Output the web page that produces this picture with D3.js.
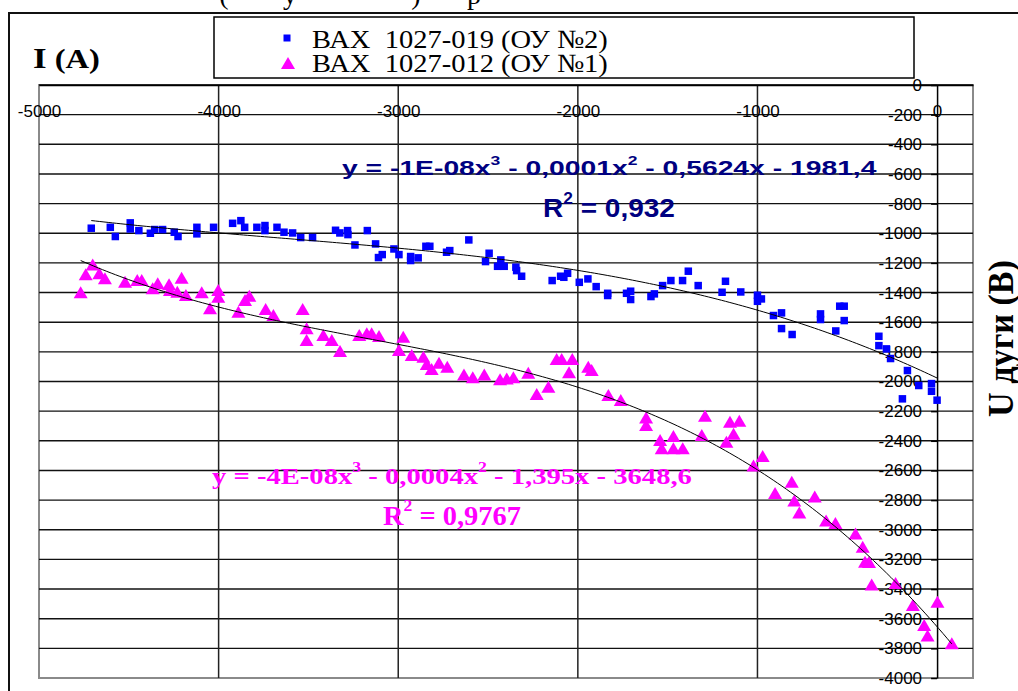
<!DOCTYPE html>
<html>
<head>
<meta charset="utf-8">
<script src="https://cdn.jsdelivr.net/npm/d3@7"></script>
<style>
  html, body { margin: 0; padding: 0; background: #fff; }
  svg { display: block; }
  text { white-space: pre; }
</style>
</head>
<body>
<svg id="chart" width="1018" height="691"></svg>
<script>
// ---- Data: arc current I (A) vs arc voltage U (V) ----
const seriesNames = ["ВАХ  1027-019 (ОУ №2)", "ВАХ  1027-012 (ОУ №1)"];

// ВАХ 1027-019 (ОУ №2): [I, U]
const vax019 = [
  [-4709,-966],[-4603,-960],[-4575,-1022],[-4492,-930],[-4492,-971],[-4444,-982],[-4380,-1000],
  [-4356,-975],[-4312,-975],[-4247,-993],[-4226,-1022],[-4121,-960],[-4121,-1004],[-4028,-960],
  [-3922,-933],[-3876,-915],[-3855,-960],[-3787,-960],[-3742,-948],[-3742,-982],[-3675,-960],
  [-3636,-993],[-3588,-998],[-3543,-1029],[-3477,-1029],[-3349,-980],[-3325,-998],[-3282,-982],
  [-3280,-1009],[-3241,-1079],[-3172,-982],[-3126,-1072],[-3110,-1164],
  [-3089,-1144],[-3024,-1106],[-2996,-1144],[-2931,-1157],[-2931,-1184],[-2889,-1166],[-2846,-1088],
  [-2824,-1088],[-2731,-1128],[-2713,-1117],[-2607,-1045],[-2514,-1191],[-2494,-1135],[-2447,-1223],
  [-2429,-1180],[-2410,-1223],[-2345,-1229],[-2341,-1252],[-2313,-1290],[-2143,-1319],[-2096,-1290],
  [-2078,-1297],[-2057,-1270],[-1992,-1331],[-1944,-1308],[-1898,-1360],[-1834,-1405],[-1834,-1420],
  [-1729,-1405],[-1706,-1391],[-1706,-1447],[-1593,-1427],[-1574,-1409],[-1528,-1353],[-1482,-1319],
  [-1417,-1319],[-1385,-1256],
  [-1330,-1353],[-1197,-1398],[-1178,-1324],[-1093,-1396],[-1000,-1418],[-1000,-1459],[-978,-1443],
  [-911,-1555],[-866,-1537],[-866,-1643],[-807,-1683],[-649,-1544],[-649,-1582],[-564,-1659],
  [-542,-1492],[-517,-1492],[-517,-1589],[-324,-1695],[-324,-1758],[-282,-1780],[-259,-1845],
  [-165,-1926],[-102,-2027],[-193,-2117],[-31,-2014],[-31,-2066],[0,-2126]
];

// ВАХ 1027-012 (ОУ №1): [I, U]
const vax012 = [
  [-4768,-1398],[-4740,-1277],[-4701,-1210],[-4664,-1270],[-4633,-1304],[-4521,-1327],[-4453,-1315],
  [-4428,-1315],[-4367,-1371],[-4339,-1338],[-4276,-1344],[-4271,-1383],[-4230,-1394],[-4206,-1300],
  [-4182,-1417],[-4094,-1398],[-4048,-1506],[-4002,-1383],[-4002,-1428],[-3890,-1529],[-3853,-1450],
  [-3829,-1421],[-3738,-1511],[-3695,-1552],[-3532,-1511],[-3510,-1641],[-3510,-1720],[-3417,-1687],
  [-3370,-1720],[-3324,-1794],[-3217,-1687],[-3175,-1675],[-3148,-1675],[-3107,-1693],[-2972,-1698],
  [-2996,-1788],[-2925,-1821],[-2860,-1833],[-2841,-1882],[-2814,-1916],[-2773,-1873],[-2727,-1900],
  [-2634,-1952],[-2585,-1972],[-2521,-1952],[-2433,-1985],[-2396,-1979],[-2359,-1972],[-2276,-1941],
  [-2229,-2085],[-2164,-2035],[-2118,-1848],[-2090,-1848],[-2049,-1938],[-2031,-1848],[-1942,-1900],
  [-1923,-1923],[-1830,-2091],[-1761,-2125],[-1620,-2242],[-1620,-2294],[-1542,-2395],[-1533,-2451],
  [-1468,-2368],[-1468,-2451],[-1416,-2451],[-1310,-2361],[-1292,-2231],[-1173,-2406],[-1153,-2271],
  [-1133,-2352],[-1101,-2265],[-1022,-2567],[-971,-2503],[-902,-2752],[-809,-2676],[-795,-2803],
  [-767,-2883],[-681,-2776],[-618,-2938],[-566,-2955],[-454,-3026],[-414,-3115],[-401,-3216],
  [-379,-3218],[-364,-3370],[-231,-3360],[-135,-3508],[-72,-3643],[-53,-3714],[2,-3486],[82,-3766]
];

// Axis ticks
const xTickValues = [-5000, -4000, -3000, -2000, -1000, 0];
const yTickValues = [0, -200, -400, -600, -800, -1000, -1200, -1400, -1600, -1800, -2000,
                     -2200, -2400, -2600, -2800, -3000, -3200, -3400, -3600, -3800, -4000];

// Trendline labels (as printed by the spreadsheet)
const eq019 = [["y = -1E-08x"], ["3", true], [" - 0,0001x"], ["2", true], [" - 0,5624x - 1981,4"]];
const r2019 = [["R"], ["2", true], [" = 0,932"]];
const eq012 = [["y = -4E-08x"], ["3", true], [" - 0,0004x"], ["2", true], [" - 1,395x - 3648,6"]];
const r2012 = [["R"], ["2", true], [" = 0,9767"]];

// ---- Layout ----
const sans = "'Liberation Sans', Arial, sans-serif";
const serif = "'Liberation Serif', 'Times New Roman', serif";
const blue = "#0000ff", magenta = "#ff00ff", navy = "#000080";

const svg = d3.select("#chart");
const x = d3.scaleLinear().domain([-5000, 200]).range([39, 973]);
const y = d3.scaleLinear().domain([-4000, 0]).range([678, 85]);

// squeeze/stretch a text horizontally so it spans `len` pixels
function fit(sel, len) {
  const w = sel.node().getBBox().width;
  sel.attr("transform", (sel.attr("transform") || "") + ` scale(${len / w},1)`);
  return sel;
}

// text made of plain and superscript runs
function rich(parent, parts, size, family, color) {
  const t = parent.append("text")
    .attr("font-family", family).attr("font-weight", "bold")
    .attr("font-size", size).attr("fill", color);
  const shift = size * 0.5;
  let raised = false;
  parts.forEach(([s, sup]) => {
    const ts = t.append("tspan").text(s);
    if (sup && !raised) { ts.attr("dy", -shift).attr("font-size", size * 0.62); raised = true; }
    else if (!sup && raised) { ts.attr("dy", shift); raised = false; }
  });
  return t;
}

// partial caption line above the frame (only its descenders show)
[["(", 224], ["у", 290], [")", 416], ["р", 474]].forEach(([ch, cx]) => {
  svg.append("text").attr("x", cx).attr("y", 4).attr("text-anchor", "middle")
    .attr("font-family", serif).attr("font-size", 28).text(ch);
});

// outer frame
svg.append("line").attr("x1", 8).attr("x2", 1018).attr("y1", 13).attr("y2", 13)
  .attr("stroke", "#111").attr("stroke-width", 2);
svg.append("line").attr("x1", 9).attr("x2", 9).attr("y1", 12).attr("y2", 691)
  .attr("stroke", "#111").attr("stroke-width", 2);

// plot area border
svg.append("rect").attr("x", x(-5000)).attr("y", y(0))
  .attr("width", x(200) - x(-5000)).attr("height", y(-4000) - y(0))
  .attr("fill", "none").attr("stroke", "#8a8a8a").attr("stroke-width", 2);

// gridlines
svg.append("g").selectAll("line").data(yTickValues.filter(v => v > -4000)).join("line")
  .attr("x1", x(-5000)).attr("x2", x(200))
  .attr("y1", d => y(d)).attr("y2", d => y(d))
  .attr("stroke", "#111").attr("stroke-width", 1.4);
svg.append("g").selectAll("line").data(xTickValues.filter(v => v > -5000 && v < 0)).join("line")
  .attr("x1", d => x(d)).attr("x2", d => x(d))
  .attr("y1", y(0)).attr("y2", y(-4000))
  .attr("stroke", "#222").attr("stroke-width", 1.5);

// horizontal axis along U = 0
const xAxis = svg.append("g").attr("transform", `translate(0,${y(0)})`)
  .call(d3.axisBottom(x).tickValues(xTickValues).tickFormat(d => String(d))
    .tickSize(0).tickSizeOuter(0));
xAxis.select(".domain").attr("stroke", "#000").attr("stroke-width", 1.5);
xAxis.selectAll("text").attr("y", 32).attr("dy", null)
  .attr("font-family", sans).attr("font-size", 17).attr("fill", "#000");

// vertical axis along I = 0
const yAxis = svg.append("g").attr("transform", `translate(${x(0)},0)`)
  .call(d3.axisLeft(y).tickValues(yTickValues).tickFormat(d => String(d))
    .tickSize(6).tickPadding(9).tickSizeOuter(0));
yAxis.select(".domain").attr("stroke", "#000").attr("stroke-width", 1.5);
yAxis.selectAll(".tick line").attr("stroke", "#000").attr("stroke-width", 1.5);
yAxis.selectAll("text").attr("font-family", sans).attr("font-size", 17).attr("fill", "#000");

// markers
svg.append("g").selectAll("rect").data(vax019).join("rect")
  .attr("x", d => x(d[0]) - 3.75).attr("y", d => y(d[1]) - 3.75)
  .attr("width", 7.5).attr("height", 7.5).attr("fill", blue);
const tri = "M0,-6L7,6L-7,6Z";
svg.append("g").selectAll("path").data(vax012).join("path")
  .attr("d", tri).attr("transform", d => `translate(${x(d[0])},${y(d[1])})`)
  .attr("fill", magenta);

// 3rd-order polynomial trendlines (least squares)
function cubicFit(pts) {
  const A = [[0,0,0,0],[0,0,0,0],[0,0,0,0],[0,0,0,0]], b = [0,0,0,0];
  pts.forEach(([xi, yi]) => {
    const t = xi / 1000, p = [1, t, t * t, t * t * t];
    for (let i = 0; i < 4; i++) { b[i] += p[i] * yi; for (let j = 0; j < 4; j++) A[i][j] += p[i] * p[j]; }
  });
  for (let c = 0; c < 4; c++) {
    let piv = c;
    for (let r = c + 1; r < 4; r++) if (Math.abs(A[r][c]) > Math.abs(A[piv][c])) piv = r;
    [A[c], A[piv]] = [A[piv], A[c]]; [b[c], b[piv]] = [b[piv], b[c]];
    for (let r = c + 1; r < 4; r++) {
      const f = A[r][c] / A[c][c];
      for (let k = c; k < 4; k++) A[r][k] -= f * A[c][k];
      b[r] -= f * b[c];
    }
  }
  const k = [0,0,0,0];
  for (let i = 3; i >= 0; i--) {
    let s = b[i];
    for (let j = i + 1; j < 4; j++) s -= A[i][j] * k[j];
    k[i] = s / A[i][i];
  }
  return xv => { const t = xv / 1000; return k[0] + k[1] * t + k[2] * t * t + k[3] * t * t * t; };
}
const line = d3.line().x(d => x(d[0])).y(d => y(d[1]));
[vax019, vax012].forEach(pts => {
  const f = cubicFit(pts);
  const [lo, hi] = d3.extent(pts, d => d[0]);
  const curve = d3.range(0, 201).map(i => { const xv = lo + (hi - lo) * i / 200; return [xv, f(xv)]; });
  svg.append("path").attr("d", line(curve)).attr("fill", "none")
    .attr("stroke", "#000").attr("stroke-width", 1);
});

// trendline equations
fit(rich(svg, eq019, 21, sans, navy).attr("transform", "translate(342,175)"), 535);
fit(rich(svg, r2019, 25.5, sans, navy).attr("transform", "translate(543,216.5)"), 132);
fit(rich(svg, eq012, 24, serif, magenta).attr("transform", "translate(212,484)"), 480);
fit(rich(svg, r2012, 28, serif, magenta).attr("transform", "translate(383,525)"), 138);

// legend
const lg = svg.append("g");
lg.append("rect").attr("x", 214).attr("y", 17).attr("width", 700).attr("height", 61)
  .attr("fill", "#fff").attr("stroke", "#000").attr("stroke-width", 1.5);
lg.append("rect").attr("x", 287 - 3.5).attr("y", 38 - 3.5).attr("width", 7).attr("height", 7).attr("fill", blue);
lg.append("path").attr("d", tri).attr("transform", "translate(288,63)").attr("fill", magenta);
seriesNames.forEach((name, i) => {
  fit(lg.append("text").attr("transform", `translate(312,${48 + i * 24})`)
    .attr("font-family", serif).attr("font-size", 26).attr("fill", "#000").text(name), 296);
});

// axis titles
const it = svg.append("text").attr("transform", "translate(33,68)")
  .attr("font-family", serif).attr("font-weight", "bold").attr("fill", "#000");
it.append("tspan").attr("font-size", 30).text("I");
it.append("tspan").attr("font-size", 28).text(" (A)");
fit(it, 67);

fit(svg.append("text").attr("transform", "translate(1013,338.5) rotate(-90)")
  .attr("text-anchor", "middle").attr("font-family", serif).attr("font-weight", "bold")
  .attr("font-size", 35).attr("fill", "#000").text("U дуги (В)"), 157);
</script>
</body>
</html>
